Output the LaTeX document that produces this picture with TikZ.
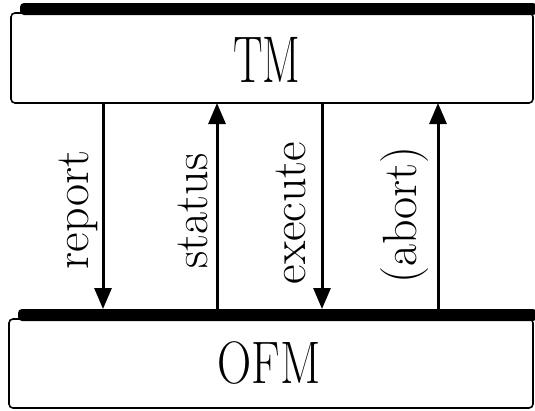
\documentclass[tikz,border=0pt]{standalone}
\usepackage{fontspec}
\usetikzlibrary{arrows.meta}
\begin{document}
\begin{tikzpicture}[x=1pt,y=-1pt,
  modbox/.style={draw=black,line width=1.6pt,rounded corners=4pt,inner sep=0pt,outer sep=0pt,fill=white},
  topbar/.style={fill=black,rounded corners=4pt},
  flow/.style={line width=3pt,-{Triangle[length=21pt,width=17pt]}},
  sig/.style={rotate=90,anchor=base,inner sep=0pt,font=\fontsize{48}{52}\selectfont},
]
\useasboundingbox (0,0) rectangle (535,410);

% upper module with its heavy top edge
\node[modbox,minimum width=522pt,minimum height=90pt] (tm) at (272,58) {};
\fill[topbar] (20,3) rectangle (537,15);
\node[anchor=base,inner sep=0pt] (tmlabel) at (267,82)
  {\scalebox{0.67}[1]{\fontsize{66}{70}\selectfont TM}};

% lower module with its heavy top edge
\node[modbox,minimum width=524pt,minimum height=89pt] (ofm) at (271,363.5) {};
\fill[topbar] (18,309) rectangle (537,321);
\node[anchor=base,inner sep=0pt] (ofmlabel) at (269,383)
  {\scalebox{0.79}[1]{\fontsize{60}{64}\selectfont OFM}};
\coordinate (ofmtop) at (272,309);

% arrow columns
\coordinate (c1) at (103,0);
\coordinate (c2) at (217,0);
\coordinate (c3) at (322,0);
\coordinate (c4) at (438,0);

\draw[flow] (tm.south -| c1) -- (ofmtop -| c1);
\draw[flow] (ofmtop -| c2) -- (tm.south -| c2);
\draw[flow] (tm.south -| c3) -- (ofmtop -| c3);
\draw[flow] (ofmtop -| c4) -- (tm.south -| c4);

% signal names
\node[sig] (l1) at (88,210) {report};
\node[sig] (l2) at (207,211) {status};
\node[sig] (l3) at (305,213) {execute};
\node[sig] (l4) at (416,215) {(abort)};
\end{tikzpicture}
\end{document}
